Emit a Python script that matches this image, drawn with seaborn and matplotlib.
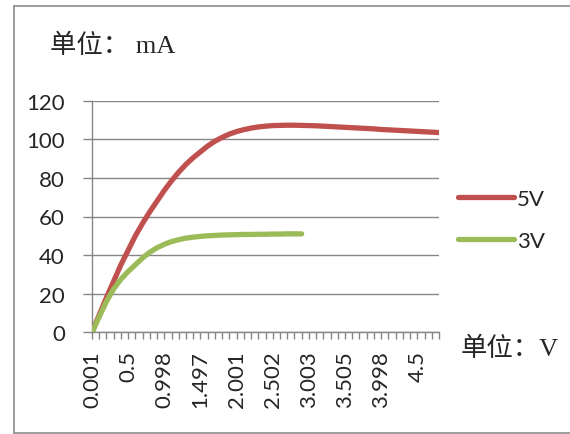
import matplotlib
matplotlib.use("Agg")
import matplotlib.pyplot as plt
from matplotlib.lines import Line2D
import pandas as pd
import seaborn as sns

# Voltage categories (V), only every 5th one is labelled on the axis
volts = [
    "0.001", "0.1", "0.2", "0.3", "0.401", "0.5", "0.6", "0.7", "0.8", "0.899",
    "0.998", "1.1", "1.2", "1.3", "1.4", "1.497", "1.6", "1.7", "1.8", "1.9",
    "2.001", "2.1", "2.2", "2.3", "2.4", "2.502", "2.6", "2.7", "2.8", "2.9",
    "3.003", "3.1", "3.2", "3.3", "3.4", "3.505", "3.6", "3.7", "3.8", "3.9",
    "3.998", "4.1", "4.2", "4.3", "4.4", "4.5", "4.6", "4.7", "4.8",
]

# Current (mA)
i_5v = [
    0, 9, 18, 26.5, 35, 42.5, 50, 56.5, 62.5, 68,
    73.5, 78.5, 83, 87, 90.5, 93.5, 96.5, 99, 101, 102.7,
    104, 105, 105.8, 106.4, 106.8, 107.1, 107.2, 107.3, 107.3, 107.2,
    107.1, 107.0, 106.8, 106.6, 106.4, 106.2, 106.0, 105.8, 105.6, 105.4,
    105.1, 104.9, 104.7, 104.5, 104.3, 104.1, 103.9, 103.7, 103.5,
]
i_3v = [
    0, 8, 16, 22.5, 27.5, 31.5, 35, 38.5, 41.5, 43.8,
    45.6, 47, 48, 48.8, 49.3, 49.7, 50, 50.2, 50.4, 50.5,
    50.6, 50.7, 50.7, 50.8, 50.8, 50.9, 50.9, 51, 51, 51,
]

series_names = ["5V", "3V"]
colors = {"5V": "#C0504D", "3V": "#9BBB59"}
y_ticks = [0, 20, 40, 60, 80, 100, 120]

rows = []
for name, vals in zip(series_names, [i_5v, i_3v]):
    for k, v in enumerate(vals):
        rows.append({"pos": k, "volt": volts[k], "mA": v, "series": name})
data = pd.DataFrame(rows)

sns.set_style("white")
plt.rcParams["font.family"] = ["Lato", "DejaVu Sans"]
GRID = "#868686"
CJK = ["Liberation Serif", "Noto Sans CJK SC"]

fig = plt.figure(figsize=(5.7, 4.35), dpi=100)
ax = fig.add_axes([92 / 570, 1 - 333.3 / 435, (439 - 92) / 570, (333.3 - 101.7) / 435])

sns.lineplot(
    data=data,
    x="pos",
    y="mA",
    hue="series",
    hue_order=series_names,
    palette=colors,
    linewidth=3.8,
    solid_capstyle="round",
    ax=ax,
    zorder=3,
)

ax.set_xlim(0, len(volts) - 1)
ax.set_ylim(0, 120)
ax.set_yticks(y_ticks)
ax.set_xticks(range(len(volts)))
ax.set_xticklabels([v if k % 5 == 0 else "" for k, v in enumerate(volts)])
ax.set_xlabel("")
ax.set_ylabel("")

ax.tick_params(axis="x", bottom=True, length=5, width=1, color=GRID,
               labelsize=16, pad=8, labelrotation=90)
ax.tick_params(axis="y", left=True, length=6.5, width=1, color=GRID,
               labelsize=16, pad=13)
ax.yaxis.grid(True, color=GRID, linewidth=1.0)
ax.xaxis.grid(False)
for side in ["top", "right"]:
    ax.spines[side].set_visible(False)
for side in ["left", "bottom"]:
    ax.spines[side].set_color(GRID)
    ax.spines[side].set_linewidth(1.0)

leg = ax.legend(
    loc="center left",
    bbox_to_anchor=(458 / 570, 1 - 221 / 435),
    bbox_transform=fig.transFigure,
    frameon=False,
    fontsize=16,
    handlelength=2.5,
    handletextpad=0.15,
    labelspacing=1.0,
    borderpad=0,
    borderaxespad=0,
)
for h in leg.get_lines():
    h.set_solid_capstyle("round")

fig.text(50 / 570, 1 - 46 / 435, "单位： mA", family=CJK, fontsize=19,
         ha="left", va="center")
fig.text(461 / 570, 1 - 349 / 435, "单位：V", family=CJK, fontsize=19,
         ha="left", va="center")

# outer chart border: left, top and bottom edges only (right is cut off)
bx0, by0, by1 = 14 / 570, 1.5 / 435, 1 - 7 / 435
for xs, ys in [([bx0, bx0], [by0, by1]), ([bx0, 1], [by1, by1]), ([bx0, 1], [by0, by0])]:
    fig.add_artist(Line2D(xs, ys, transform=fig.transFigure, color="#8c8c8c", linewidth=1.2))

fig.savefig("out.png", dpi=100)
